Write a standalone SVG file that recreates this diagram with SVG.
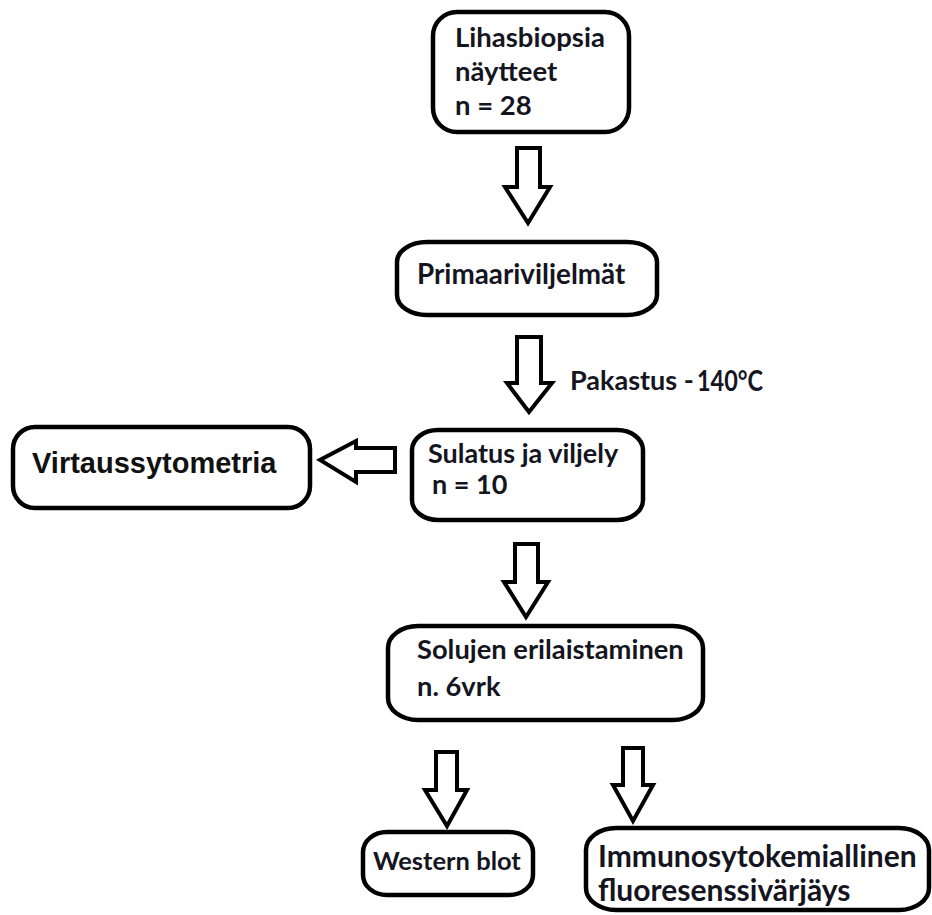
<svg xmlns="http://www.w3.org/2000/svg" width="932" height="915" viewBox="0 0 932 915">
<style>
.box{fill:#fff;stroke:#000;stroke-width:4.5}
.arr{fill:#fff;stroke:#000;stroke-width:4;stroke-linejoin:miter}
.t{font-family:Lato,"Open Sans","Liberation Sans",sans-serif;font-weight:bold;font-size:27px;fill:#15151f}
.a{font-family:"Liberation Sans",Arial,sans-serif;font-weight:bold;font-size:29px;fill:#111}
</style>
<rect width="932" height="915" fill="#fff"/>
<g id="connectors">
<polygon class="arr" points="517,148 540,148 540,187 550,187 528,223 505,187 517,187"/>
<polygon class="arr" points="517,337 541,337 541,383 552,383 529,412 507,383 517,383"/>
<polygon class="arr" points="395,448 395,472 356,472 356,482 320,460 356,441 356,448"/>
<polygon class="arr" points="515,544 538,544 538,582 548,582 526,617 504,582 515,582"/>
<polygon class="arr" points="436,752 457,752 457,790 467,790 447,826 425,790 436,790"/>
<polygon class="arr" points="623,748 643,748 643,785 653,785 633,821 613,785 623,785"/>
<text class="t" x="570" y="390">Pakastus -</text>
<text class="t" x="697" y="391" style="font-size:29px" textLength="66" lengthAdjust="spacingAndGlyphs">140°C</text>
</g>
<g id="n1">
<rect class="box" x="433" y="12" width="196" height="120" rx="24" ry="24"/>
<text class="t" x="455" y="47" style="font-size:27.5px">Lihasbiopsia</text>
<text class="t" x="455" y="81" style="font-size:27.5px">näytteet</text>
<text class="t" x="455" y="115" style="font-size:27.5px">n = 28</text>
</g>
<g id="n2">
<rect class="box" x="397" y="242" width="260" height="73" rx="30" ry="20"/>
<text class="t" x="417" y="284" style="font-size:27.8px">Primaariviljelmät</text>
</g>
<g id="n3">
<rect class="box" x="412" y="430" width="231" height="90" rx="26" ry="20"/>
<text class="t" x="428" y="463">Sulatus ja viljely</text>
<text class="t" x="432" y="494">n = 10</text>
</g>
<g id="n_virtaus">
<rect class="box" x="13" y="427" width="297" height="81" rx="22" ry="22"/>
<text class="a" x="32" y="473">Virtaussytometria</text>
</g>
<g id="n4">
<rect class="box" x="388" y="626" width="315" height="94" rx="30" ry="22"/>
<text class="t" x="417" y="659" style="font-size:27.3px">Solujen erilaistaminen</text>
<text class="t" x="417" y="696" style="font-size:27.3px">n. 6vrk</text>
</g>
<g id="n_western">
<rect class="box" x="363" y="832" width="170" height="63" rx="24" ry="20"/>
<text class="t" x="373" y="870" style="font-size:25.5px">Western blot</text>
</g>
<g id="n_immuno">
<rect class="box" x="586" y="828" width="343" height="82" rx="30" ry="22"/>
<text class="t" x="598" y="867" style="font-size:30px">Immunosytokemiallinen</text>
<text class="t" x="598" y="901" style="font-size:30px">fluoresenssivärjäys</text>
</g>
</svg>
